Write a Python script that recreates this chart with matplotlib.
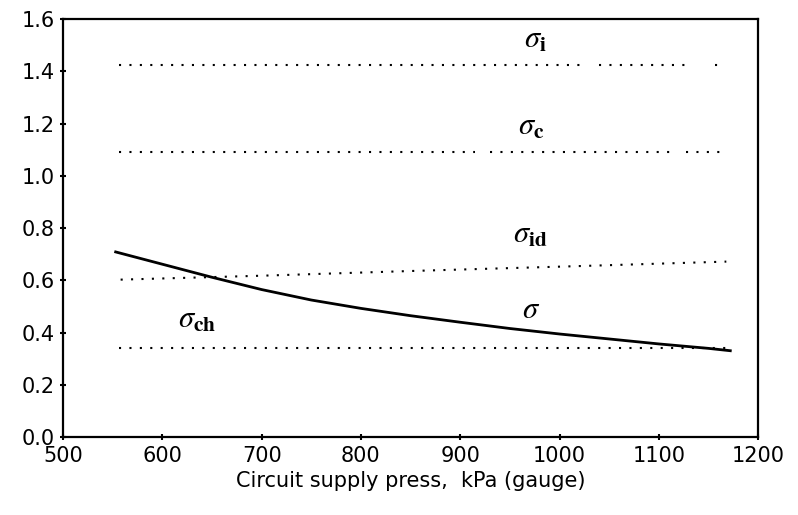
import numpy as np
import matplotlib
matplotlib.use("Agg")
import matplotlib.pyplot as plt

plt.rcParams['mathtext.fontset'] = 'stix'

# constant contributions (dotted lines); NaN entries mark the breaks seen in the scan
x_i = [556, 1026, 1030, 1040, 1130, 1140, 1157, 1165]
sigma_i = [1.425, 1.425, np.nan, 1.425, 1.425, np.nan, 1.425, 1.425]

x_c = [556, 915, 920, 930, 1113, 1120, 1127, 1167]
sigma_c = [1.09, 1.09, np.nan, 1.09, 1.09, np.nan, 1.09, 1.09]

x_ch = [556, 1168]
sigma_ch = [0.34, 0.34]

# sigma_id rises slightly with pressure
x_id = [558, 700, 850, 1030, 1168]
sigma_id = [0.603, 0.618, 0.636, 0.656, 0.672]

# total sigma (solid curve)
x_sig = [553, 600, 650, 700, 750, 800, 850, 900, 950, 1000, 1050, 1100, 1150, 1172]
sigma = [0.709, 0.662, 0.612, 0.565, 0.525, 0.493, 0.465, 0.440, 0.416, 0.395,
         0.376, 0.357, 0.340, 0.331]

labels = [r'$\sigma_{\mathbf{i}}$', r'$\sigma_{\mathbf{c}}$', r'$\sigma_{\mathbf{id}}$',
          r'$\sigma$', r'$\sigma_{\mathbf{ch}}$']
label_x = [976, 971, 971, 971, 635]
label_y = [1.52, 1.19, 0.775, 0.488, 0.45]

fig = plt.figure(figsize=(7.98, 5.15), dpi=100)
ax = fig.add_axes([0.079, 0.151, 0.871, 0.812])

dot = (0, (1, 4))
ax.plot(x_i, sigma_i, color='black', lw=1.5, linestyle=dot)
ax.plot(x_c, sigma_c, color='black', lw=1.5, linestyle=dot)
ax.plot(x_ch, sigma_ch, color='black', lw=1.5, linestyle=dot)
ax.plot(x_id, sigma_id, color='black', lw=1.5, linestyle=dot)
ax.plot(x_sig, sigma, color='black', lw=2.0)

for lab, lx, ly in zip(labels, label_x, label_y):
    ax.text(lx, ly, lab, fontsize=22, ha='center', va='center', fontweight='bold')

ax.set_xlim(500, 1200)
ax.set_ylim(0, 1.6)
ax.set_xticks(np.arange(500, 1201, 100))
ax.set_yticks(np.arange(0, 1.61, 0.2))
ax.set_yticklabels([f'{v:.1f}' for v in np.arange(0, 1.61, 0.2)])
ax.tick_params(direction='inout', length=4, width=1.5, labelsize=15, pad=4)
for s in ax.spines.values():
    s.set_linewidth(1.6)
ax.set_xlabel('Circuit supply press,  kPa (gauge)', fontsize=15, labelpad=4)

fig.savefig('out.png', dpi=100)
